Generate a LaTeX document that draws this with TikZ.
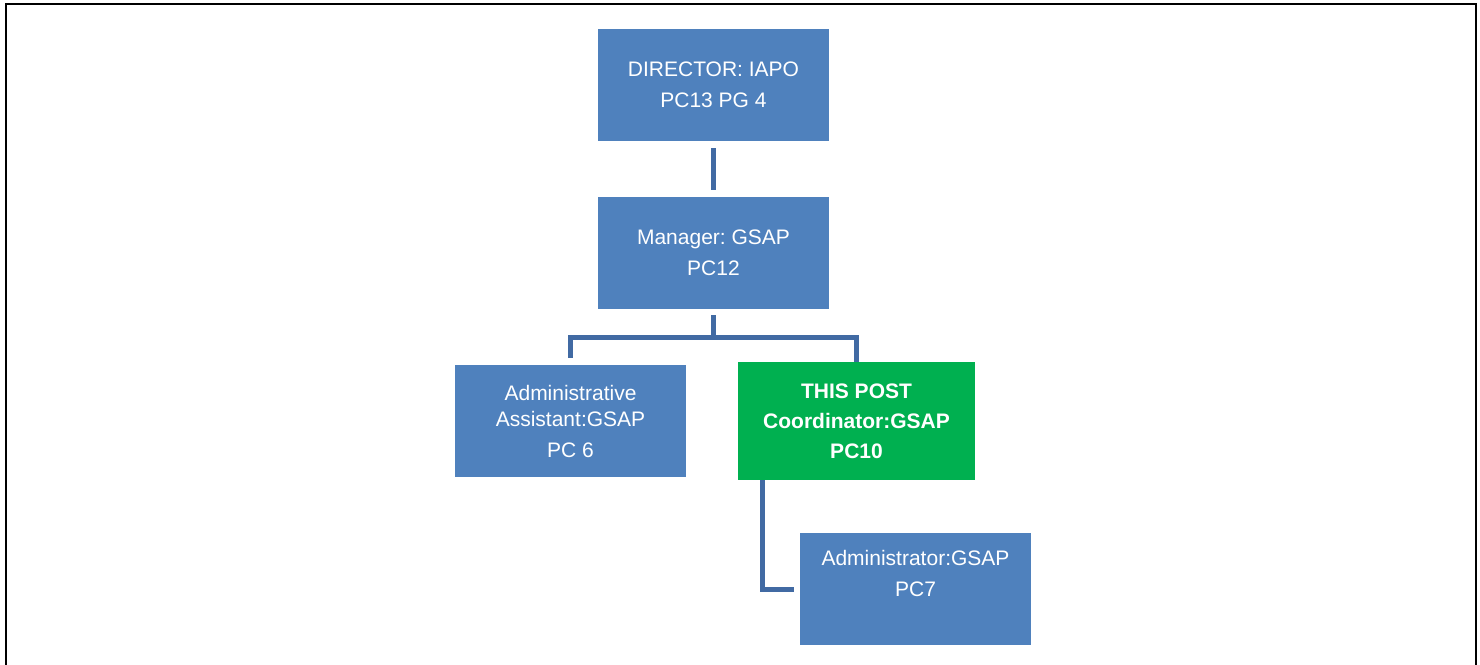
\documentclass[tikz,border=0pt]{standalone}
\usepackage{fontspec}
\setmainfont{Liberation Sans}
\definecolor{postblue}{RGB}{79,129,189}
\definecolor{postgreen}{RGB}{0,176,80}
\definecolor{linkblue}{RGB}{65,106,163}
\frenchspacing

\begin{document}
\begin{tikzpicture}[x=1pt,y=-1pt,
    post/.style={fill=postblue, text=white, minimum width=231pt, minimum height=112pt, inner sep=0pt, align=center, font=\fontsize{21}{31}\selectfont},
    thispost/.style={post, fill=postgreen, minimum width=237pt, minimum height=118pt, font=\fontsize{21}{30}\selectfont\bfseries},
    link/.style={draw=linkblue, line width=5pt}]

    \useasboundingbox (0,0) rectangle (1480,664);
    \draw[line width=2pt] (6,4) rectangle (1476,700);

    \node[post] (director) at (713.5,85) {DIRECTOR: IAPO\\PC13 PG 4};
    \node[post] (manager) at (713.5,253) {Manager: GSAP\\PC12};
    \node[post] (assistant) at (570.5,421) {Administrative\\[-5pt]Assistant:GSAP\\PC 6};
    \node[thispost] (coordinator) at (856.5,421) {THIS POST\\Coordinator:GSAP\\PC10};
    \node[post] (administrator) at (915.5,589) {Administrator:GSAP\\PC7\\~};

    \coordinate (bus) at (713.5,337);
    %
    \draw[link, shorten <=7pt, shorten >=7pt] (director) -- (manager);
    \draw[link, shorten <=6pt] (manager.south) -- (bus);
    \draw[link] ([yshift=7pt]assistant.north) |- (bus) -| (coordinator.north);
    \draw[link] ([xshift=25pt]coordinator.south west) |- ([xshift=-6pt]administrator.west);
\end{tikzpicture}
\end{document}
